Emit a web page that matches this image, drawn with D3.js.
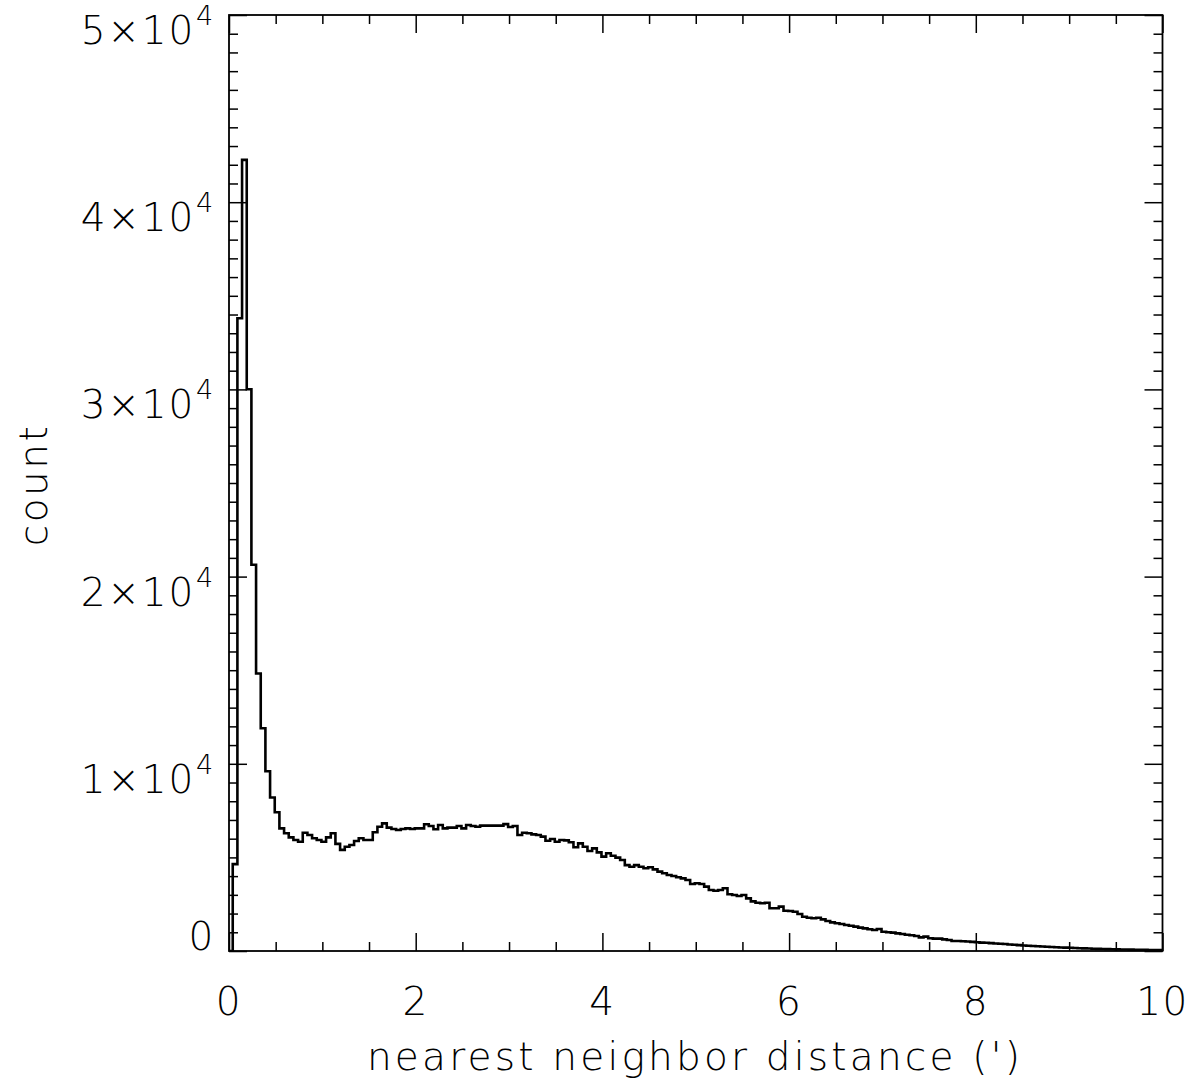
<!DOCTYPE html>
<html>
<head>
<meta charset="utf-8">
<script src="https://cdn.jsdelivr.net/npm/d3@7"></script>
<style>
  html, body { margin: 0; padding: 0; background: #fff; }
  svg { display: block; }
  text { font-family: "DejaVu Sans", "Liberation Sans", sans-serif; fill: #000; }
</style>
</head>
<body>
<svg id="chart" width="1202" height="1087"></svg>
<script>
// ---- data ----
const binStart = 0.04;      // left edge of first bin (arcmin)
const binWidth = 0.05;      // bin width (arcmin)
const counts = [
  4640, 33800, 42260, 30010, 20630, 14820, 11900, 9600, 8200, 7410,
  6550, 6290, 6070, 5930, 5840, 6320, 6200, 6020, 5930, 5840,
  6070, 6290, 5720, 5400, 5570, 5660, 5880, 6020, 5930, 5930,
  6340, 6640, 6820, 6590, 6520, 6460, 6520, 6550, 6520, 6550,
  6550, 6770, 6680, 6500, 6730, 6550, 6590, 6590, 6680, 6550,
  6730, 6680, 6640, 6700, 6700, 6700, 6700, 6700, 6780, 6620,
  6680, 6200, 6320, 6290, 6230, 6200, 6110, 5890, 5980, 5840,
  5930, 5910, 5810, 5540, 5750, 5570, 5340, 5480, 5270, 5040,
  5220, 5090, 4990, 4860, 4590, 4500, 4590, 4500, 4420, 4470,
  4360, 4240, 4150, 4060, 4010, 3940, 3880, 3790, 3580, 3620,
  3580, 3440, 3260, 3220, 3260, 3350, 3030, 2990, 2940, 2990,
  2810, 2650, 2580, 2550, 2580, 2280, 2280, 2370, 2150, 2140,
  2100, 1980, 1830, 1780, 1750, 1780, 1690, 1600, 1530, 1480,
  1440, 1390, 1350, 1300, 1250, 1210, 1160, 1120, 1175, 1030,
  1000, 980, 940, 910, 870, 840, 800, 730, 770, 680,
  660, 660, 620, 590, 535, 535, 520, 505, 490, 470,
  450, 440, 420, 400, 385, 370, 350, 330, 315, 295,
  280, 270, 255, 240, 230, 215, 200, 190, 180, 170,
  160, 150, 140, 130, 120, 112, 105, 98, 92, 88,
  84, 78, 72, 68, 64, 60, 55, 52, 48, 45
];
const xTickValues = [0, 2, 4, 6, 8, 10];
const xTickLabels = ["0", "2", "4", "6", "8", "10"];
const yTickValues = [0, 10000, 20000, 30000, 40000, 50000];
const yTickLabels = ["0", "1×10^4", "2×10^4", "3×10^4", "4×10^4", "5×10^4"];
const xTitle = "nearest neighbor distance (')";
const yTitle = "count";

// ---- layout ----
const svg = d3.select("#chart");
const L = 229, R = 1162.5, T = 15, B = 951;
const x = d3.scaleLinear().domain([0, 10]).range([L, R]);
const y = d3.scaleLinear().domain([0, 50000]).range([B, T]);

svg.append("clipPath").attr("id", "plotclip")
  .append("rect").attr("x", L).attr("y", T).attr("width", R - L).attr("height", B - T);

// histogram as step line
const pts = [[0, 0], [binStart, 0]];
counts.forEach((c, i) => pts.push([binStart + i * binWidth, c]));
pts.push([binStart + counts.length * binWidth, counts[counts.length - 1]]);
const line = d3.line().x(d => x(d[0])).y(d => y(d[1])).curve(d3.curveStepAfter);
svg.append("path")
  .attr("clip-path", "url(#plotclip)")
  .attr("d", line(pts))
  .attr("fill", "none").attr("stroke", "#000").attr("stroke-width", 2.6)
  .attr("stroke-linejoin", "miter");

// axes: ticks on all four sides
const majLen = 18, minLen = 9;
const xMinor = d3.range(0, 10.001, 0.5).filter(v => Math.abs(v / 2 - Math.round(v / 2)) > 1e-6);
const yMinor = d3.range(0, 50001, 1000).filter(v => v % 10000 !== 0);

function axisGroup(gen, tx, ty, len, ticks) {
  const g = svg.append("g").attr("transform", `translate(${tx},${ty})`)
    .call(gen.tickValues(ticks).tickSize(len).tickFormat(""));
  g.select(".domain").remove();
  g.selectAll(".tick line").attr("stroke", "#000").attr("stroke-width", 1.5);
  return g;
}
axisGroup(d3.axisTop(x), 0, B, majLen, xTickValues);
axisGroup(d3.axisTop(x), 0, B, minLen, xMinor);
axisGroup(d3.axisBottom(x), 0, T, majLen, xTickValues);
axisGroup(d3.axisBottom(x), 0, T, minLen, xMinor);
axisGroup(d3.axisRight(y), L, 0, majLen, yTickValues);
axisGroup(d3.axisRight(y), L, 0, minLen, yMinor);
axisGroup(d3.axisLeft(y), R, 0, majLen, yTickValues);
axisGroup(d3.axisLeft(y), R, 0, minLen, yMinor);

// frame
svg.append("rect").attr("x", L).attr("y", T).attr("width", R - L).attr("height", B - T)
  .attr("fill", "none").attr("stroke", "#000").attr("stroke-width", 1.8);

// tick labels
const fs = 39;
svg.append("g").selectAll("text").data(xTickValues).join("text")
  .attr("x", d => x(d)).attr("y", 1015)
  .attr("text-anchor", "middle").attr("font-size", fs).attr("font-weight", 300)
  .attr("letter-spacing", 1.5)
  .text((d, i) => xTickLabels[i]);

const yl = svg.append("g").selectAll("text").data(yTickValues).join("text")
  .attr("x", 215)
  .attr("y", d => Math.min(y(d) + 29, B - 1))
  .attr("text-anchor", "end").attr("font-size", fs).attr("font-weight", 300)
  .attr("letter-spacing", 1.8);
yl.each(function(d, i) {
  const parts = yTickLabels[i].split("^");
  const t = d3.select(this);
  t.append("tspan").text(parts[0]);
  if (parts[1]) t.append("tspan").attr("font-size", 27).attr("dy", -19).attr("dx", 1).text(parts[1]);
});

// axis titles
svg.append("text").attr("x", 695).attr("y", 1070)
  .attr("text-anchor", "middle").attr("font-size", fs).attr("font-weight", 300)
  .attr("letter-spacing", 3.2)
  .text(xTitle);
svg.append("text").attr("transform", "translate(47,485) rotate(-90)")
  .attr("text-anchor", "middle").attr("font-size", fs).attr("font-weight", 300)
  .attr("letter-spacing", 2.5)
  .text(yTitle);
</script>
</body>
</html>
